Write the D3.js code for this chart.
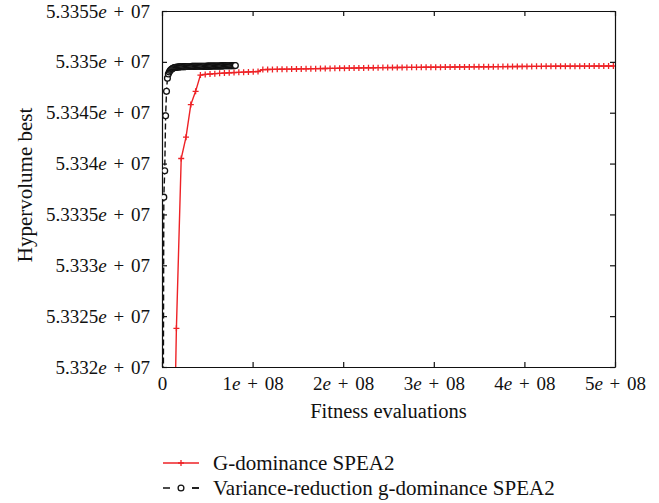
<!DOCTYPE html>
<html>
<head>
<meta charset="utf-8">
<script src="https://cdn.jsdelivr.net/npm/d3@7"></script>
<style>
  body { margin: 0; background: #fff; }
  text { font-family: "Liberation Serif", "DejaVu Serif", serif; fill: #111; }
</style>
</head>
<body>
<div id="chart"></div>
<script>
// G-dominance SPEA2 (red): fitness evaluations in millions, hypervolume
const redEvalsM = [0, 5.3, 10.6, 15.9, 21.2, 26.5, 31.8, 37.1, 42.4, 47.7, 53, 58.3, 63.6, 68.9, 74.2, 79.5, 84.8, 90.1, 95.4, 100.7,
  106, 111.3, 116.6, 121.9, 127.2, 132.5, 137.8, 143.1, 148.4, 153.7, 159, 164.3, 169.6, 174.9, 180.2, 185.5, 190.8, 196.1, 201.4, 206.7,
  212, 217.3, 222.6, 227.9, 233.2, 238.5, 243.8, 249.1, 254.4, 259.7, 265, 270.3, 275.6, 280.9, 286.2, 291.5, 296.8, 302.1, 307.4, 312.7,
  318, 323.3, 328.6, 333.9, 339.2, 344.5, 349.8, 355.1, 360.4, 365.7, 371, 376.3, 381.6, 386.9, 392.2, 397.5, 402.8, 408.1, 413.4, 418.7,
  424, 429.3, 434.6, 439.9, 445.2, 450.5, 455.8, 461.1, 466.4, 471.7, 477, 482.3, 487.6, 492.9, 498.2];
const redValues = [53250000, 53280000, 53298000, 53323800, 53340500, 53342600, 53345800, 53347100, 53348700, 53348760,
  53348800, 53348840, 53348870, 53348900, 53348930, 53348950, 53348970, 53348990, 53349010, 53349030,
  53349050, 53349240, 53349250, 53349260, 53349270, 53349275, 53349285, 53349290, 53349300, 53349310,
  53349315, 53349325, 53349330, 53349340, 53349345, 53349355, 53349360, 53349370, 53349375, 53349385,
  53349390, 53349400, 53349405, 53349415, 53349420, 53349430, 53349435, 53349440, 53349440, 53349445,
  53349450, 53349455, 53349460, 53349460, 53349465, 53349470, 53349475, 53349480, 53349480, 53349485,
  53349490, 53349495, 53349500, 53349500, 53349505, 53349510, 53349515, 53349520, 53349520, 53349525,
  53349530, 53349535, 53349540, 53349540, 53349545, 53349550, 53349550, 53349555, 53349560, 53349560,
  53349565, 53349565, 53349570, 53349570, 53349575, 53349575, 53349580, 53349580, 53349585, 53349585,
  53349590, 53349590, 53349590, 53349595, 53349595];

// Variance-reduction g-dominance SPEA2 (black)
const blackEvalsM = [1, 2, 3, 4, 5, 6, 7, 8, 9, 10, 11, 12, 13, 14, 15, 16, 17, 18, 19, 20,
  21, 22, 23, 24, 25, 26, 27, 28, 29, 30, 31, 32, 33, 34, 35, 36, 37, 38, 39, 40,
  41, 42, 43, 44, 45, 46, 47, 48, 49, 50, 51, 52, 53, 54, 55, 56, 57, 58, 59, 60,
  61, 62, 63, 64, 65, 66, 67, 68, 69, 70, 71, 72, 73, 74, 75, 76, 77, 78, 79, 80, 81];
const blackValues = [53300000, 53336700, 53339300, 53344700, 53347100, 53348400, 53348800, 53349000, 53349150, 53349250,
  53349320, 53349370, 53349410, 53349440, 53349460, 53349475, 53349485, 53349495, 53349502, 53349510,
  53349515, 53349520, 53349524, 53349528, 53349531, 53349534, 53349537, 53349540, 53349542, 53349545,
  53349547, 53349549, 53349551, 53349553, 53349555, 53349556, 53349558, 53349559, 53349561, 53349562,
  53349563, 53349565, 53349566, 53349568, 53349569, 53349571, 53349572, 53349574, 53349575, 53349577,
  53349578, 53349580, 53349581, 53349583, 53349584, 53349586, 53349587, 53349589, 53349590, 53349592,
  53349594, 53349596, 53349598, 53349600, 53349602, 53349604, 53349606, 53349608, 53349610, 53349612,
  53349614, 53349616, 53349618, 53349620, 53349622, 53349624, 53349626, 53349628, 53349630, 53349632, 53349634];

const yTicks = [53320000, 53325000, 53330000, 53335000, 53340000, 53345000, 53350000, 53355000];
const yTickMantissa = ['5.332', '5.3325', '5.333', '5.3335', '5.334', '5.3345', '5.335', '5.3355'];
const xTicks = [0, 1e8, 2e8, 3e8, 4e8, 5e8];
const xTickMantissa = ['0', '1', '2', '3', '4', '5'];

const legendLabels = ['G-dominance SPEA2', 'Variance-reduction g-dominance SPEA2'];

const width = 659;
const height = 503;
const margin = {top: 11, right: 44, bottom: 136, left: 162};
const red = '#ee2226';

const svg = d3.select('#chart')
  .append('svg')
    .attr('width', width)
    .attr('height', height)
    .attr('viewBox', [0, 0, width, height]);

const xScale = d3.scaleLinear()
  .domain([0, 5e8])
  .range([margin.left, width - margin.right]);
const yScale = d3.scaleLinear()
  .domain([53320000, 53355000])
  .range([height - margin.bottom, margin.top]);

// label with italic e, like "5.335e + 07"
function sciLabel(sel, mantissa, exp) {
  sel.text(null);
  sel.append('tspan').text(mantissa);
  if (mantissa === '0') return;
  sel.append('tspan').attr('font-style', 'italic').text('e');
  sel.append('tspan').attr('dx', 2).text(' +');
  sel.append('tspan').attr('dx', 2).text(' ' + exp);
}

svg.append('clipPath')
  .attr('id', 'plot-clip')
  .append('rect')
    .attr('x', margin.left)
    .attr('y', margin.top)
    .attr('width', width - margin.left - margin.right)
    .attr('height', height - margin.top - margin.bottom);

// axes with inward ticks
const xAxis = svg.append('g')
  .attr('transform', `translate(0, ${height - margin.bottom})`)
  .call(d3.axisBottom(xScale).tickValues(xTicks).tickSize(-5).tickSizeOuter(0).tickPadding(10));
xAxis.selectAll('.tick text')
  .attr('font-size', 19)
  .each(function(d, i) { sciLabel(d3.select(this), xTickMantissa[i], '08'); });

const yAxis = svg.append('g')
  .attr('transform', `translate(${margin.left}, 0)`)
  .call(d3.axisLeft(yScale).tickValues(yTicks).tickSize(-5).tickSizeOuter(0).tickPadding(12));
yAxis.selectAll('.tick text')
  .attr('font-size', 19)
  .each(function(d, i) { sciLabel(d3.select(this), yTickMantissa[i], '07'); });

svg.append('g')
  .attr('transform', `translate(0, ${margin.top})`)
  .call(d3.axisTop(xScale).tickValues(xTicks).tickSize(-5).tickSizeOuter(0).tickFormat(''));
svg.append('g')
  .attr('transform', `translate(${width - margin.right}, 0)`)
  .call(d3.axisRight(yScale).tickValues(yTicks).tickSize(-5).tickSizeOuter(0).tickFormat(''));

svg.selectAll('.domain, .tick line')
  .attr('stroke', '#111')
  .attr('stroke-width', 1.2);

const redData = redEvalsM.map((e, i) => ({x: e * 1e6, y: redValues[i]}));
const blackData = blackEvalsM.map((e, i) => ({x: e * 1e6, y: blackValues[i]}));

const line = d3.line()
  .x(d => xScale(d.x))
  .y(d => yScale(d.y));

const plot = svg.append('g').attr('clip-path', 'url(#plot-clip)');

// red series
plot.append('path')
  .datum(redData)
  .attr('fill', 'none')
  .attr('stroke', red)
  .attr('stroke-width', 1.4)
  .attr('d', line);

plot.append('g')
  .attr('stroke', red)
  .attr('stroke-width', 1.3)
  .selectAll('path')
  .data(redData)
  .join('path')
    .attr('d', 'M-3,0H3M0,-3V3')
    .attr('transform', d => `translate(${xScale(d.x)}, ${yScale(d.y)})`);

// black series
plot.append('path')
  .datum(blackData)
  .attr('fill', 'none')
  .attr('stroke', '#111')
  .attr('stroke-width', 1.4)
  .attr('stroke-dasharray', '6,3')
  .attr('d', line);

plot.append('g')
  .selectAll('circle')
  .data(blackData)
  .join('circle')
    .attr('cx', d => xScale(d.x))
    .attr('cy', d => yScale(d.y))
    .attr('r', 2.9)
    .attr('fill', '#fff')
    .attr('stroke', '#111')
    .attr('stroke-width', 1.3);

// axis titles
svg.append('text')
  .attr('x', (margin.left + width - margin.right) / 2)
  .attr('y', 418)
  .attr('text-anchor', 'middle')
  .attr('font-size', 20.5)
  .text('Fitness evaluations');

svg.append('text')
  .attr('transform', `translate(32, ${(margin.top + height - margin.bottom) / 2 - 4}) rotate(-90)`)
  .attr('text-anchor', 'middle')
  .attr('font-size', 21)
  .text('Hypervolume best');

// legend
const legend = svg.append('g').attr('transform', 'translate(163, 463)');
legend.append('line')
  .attr('x1', 0).attr('x2', 36).attr('y1', 0).attr('y2', 0)
  .attr('stroke', red).attr('stroke-width', 1.4);
legend.append('path')
  .attr('d', 'M-3,0H3M0,-3V3')
  .attr('transform', 'translate(18, 0)')
  .attr('stroke', red).attr('stroke-width', 1.3);
legend.append('line')
  .attr('x1', 0).attr('x2', 36).attr('y1', 25).attr('y2', 25)
  .attr('stroke', '#111').attr('stroke-width', 1.4)
  .attr('stroke-dasharray', '7,22');
legend.append('line')
  .attr('x1', 29).attr('x2', 36).attr('y1', 25).attr('y2', 25)
  .attr('stroke', '#111').attr('stroke-width', 1.4);
legend.append('circle')
  .attr('cx', 18).attr('cy', 25).attr('r', 2.9)
  .attr('fill', '#fff').attr('stroke', '#111').attr('stroke-width', 1.3);
legend.selectAll('.legend-label')
  .data(legendLabels)
  .join('text')
    .attr('class', 'legend-label')
    .attr('x', 50)
    .attr('y', (d, i) => i * 25 + 7)
    .attr('font-size', 21)
    .text(d => d);
</script>
</body>
</html>
